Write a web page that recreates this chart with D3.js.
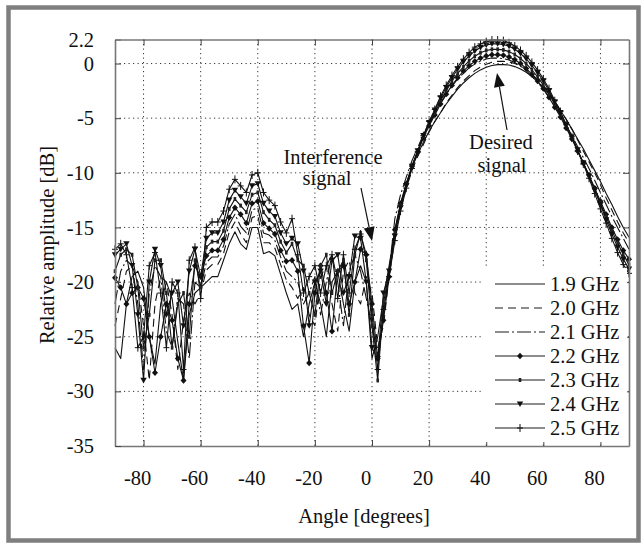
<!DOCTYPE html>
<html><head><meta charset="utf-8">
<script src="https://cdn.jsdelivr.net/npm/d3@7"></script>
<style>
body{margin:0;background:#fff}
svg text{font-family:"Liberation Serif","Times New Roman",Times,serif;fill:#111}
</style>
</head><body>
<svg id="c" width="644" height="548"></svg>
<script>
// ---------- data ----------
const angles = [-90,-88,-86,-84,-82,-80,-78,-76,-74,-72,-70,-68,-66,-64,-62,-60,
 -58,-56,-54,-52,-50,-48,-46,-44,-42,-40,-38,-36,-34,-32,-30,-28,
 -26,-24,-22,-20,-18,-16,-14,-12,-10,-8,-6,-4,-2,0,2,4,6,
 8,10,12,14,16,18,20,22,24,26,28,30,32,34,36,38,40,42,44,46,
 48,50,52,54,56,58,60,62,64,66,68,70,72,74,76,78,80,82,84,86,88,90];

const s19 = [-26,-27,-22,-19.5,-19,-20.5,-25,-27.5,-22,-20,-21.5,-25.5,-29,-23,-21,-20.5,
 -20,-19.5,-19.5,-18,-16.5,-15.4,-16.5,-17,-15,-15,-17.4,-17.2,-17.6,-19.3,-21,-22.5,
 -22,-25,-22,-20,-22,-25,-20,-19,-22,-24.5,-20,-18.5,-20,-27,-25,-21.5,-18.5,
 -15.3,-12.9,-11.0,-9.5,-8.3,-7.2,-6.2,-5.3,-4.5,-3.7,-3.0,-2.34,-1.78,-1.3,-0.9,-0.58,-0.34,-0.18,-0.1,-0.1,
 -0.14,-0.28,-0.5,-0.8,-1.2,-1.68,-2.2,-2.8,-3.5,-4.3,-5.1,-6.0,-6.9,-7.8,-8.8,-9.8,-10.8,-11.9,-12.9,-14.0,-15.0,-15.9];
const s20 = [-24,-21.5,-19,-18.5,-20,-24,-29,-22,-19.5,-20,-23,-28,-23.5,-21,-22,-21,
 -18.9,-18.4,-18.4,-17.4,-15.4,-14.5,-15.6,-16.4,-14.1,-13.9,-16.4,-16.4,-16.9,-18.4,-19.8,-20.5,
 -21.5,-20.5,-23,-24,-19.5,-18.5,-22,-24.5,-19,-18,-21,-22,-19.5,-21,-26,-24,-19.5,
 -16,-13.4,-11.4,-9.8,-8.5,-7.4,-6.26,-5.3,-4.5,-3.6,-2.9,-2.2,-1.6,-1.1,-0.65,-0.31,-0.06,0.12,0.2,0.2,
 0.15,0.01,-0.22,-0.54,-0.96,-1.47,-2.03,-2.7,-3.4,-4.3,-5.1,-6.0,-7.0,-8.0,-9.0,-10.0,-11.1,-12.3,-13.4,-14.5,-15.5,-16.4];
const s21 = [-22,-19,-18,-18.5,-22,-28,-21,-18.5,-19.5,-24.5,-26,-21.5,-22,-27,-20,-20.5,
 -18.2,-17.7,-17.7,-16.7,-14.7,-13.8,-14.9,-15.5,-13.4,-13.2,-15.5,-15.7,-16.2,-17.7,-19,-19.5,
 -20,-22,-21,-19.5,-23,-20,-17.5,-20,-24,-19,-17.5,-19,-21.5,-24,-26.8,-23,-19,
 -14.2,-12.0,-10.4,-8.9,-7.7,-6.5,-5.5,-4.6,-3.6,-2.8,-2.1,-1.4,-0.9,-0.4,-0.05,0.22,0.41,0.5,0.5,0.45,
 0.32,0.09,-0.24,-0.65,-1.16,-1.7,-2.35,-3.1,-3.9,-4.7,-5.7,-6.6,-7.6,-8.6,-9.6,-10.7,-11.8,-12.9,-14.0,-15.0,-16.0,-17.0];
const s22 = [-19.6,-20.5,-22,-21,-20.5,-21.5,-25,-28.3,-25,-22,-23.5,-27,-29,-22,-18.5,-19.5,
 -17.6,-17.1,-17.1,-16.1,-14.1,-13.2,-13.8,-14.6,-12.8,-12.6,-14.6,-15.1,-15.6,-17.1,-18.1,-18,
 -19,-24,-27.4,-21,-18.5,-21,-24.5,-19,-18.5,-22,-20,-17,-17.5,-22,-27,-23.5,-19.5,
 -15.2,-12.8,-11.0,-9.4,-8.1,-6.8,-5.7,-4.7,-3.7,-2.8,-2.0,-1.3,-0.7,-0.2,0.2,0.5,0.7,0.8,0.8,0.75,
 0.6,0.35,0.0,-0.45,-1.0,-1.6,-2.3,-3.1,-4.0,-4.9,-5.9,-6.9,-8.0,-9.1,-10.2,-11.4,-12.6,-13.8,-15.0,-16.1,-17.1,-17.9];
const s23 = [-19,-17.5,-17,-17.5,-20.5,-26,-23,-18,-18,-21,-26,-22,-21,-25,-18,-20.5,
 -16.8,-16.3,-16.3,-15.3,-13.3,-12.4,-13,-13.6,-12,-11.8,-13.6,-14.3,-14.8,-16.3,-17.3,-16.5,
 -18,-18.5,-21,-23,-18.5,-17.5,-21,-19,-18,-23,-17.5,-15.5,-18,-24,-29,-22,-19,
 -15.5,-13.0,-11.1,-9.4,-8.0,-6.7,-5.5,-4.5,-3.4,-2.5,-1.6,-0.9,-0.3,0.25,0.67,0.99,1.2,1.3,1.3,1.25,
 1.09,0.83,0.46,-0.01,-0.59,-1.22,-1.96,-2.8,-3.7,-4.7,-5.7,-6.8,-7.9,-9.1,-10.3,-11.5,-12.8,-14.0,-15.3,-16.4,-17.5,-18.4];
const s24 = [-17.5,-17,-16.5,-18.5,-23,-29,-20,-17,-18.5,-23,-21,-20,-24,-19,-17,-19.5,
 -16,-15.5,-15.5,-14.5,-12.5,-11.6,-12.2,-12.8,-11.2,-11,-12.8,-13.5,-14,-15.5,-16.5,-16,
 -16.5,-19,-24,-20,-19,-22,-18,-17.5,-21,-19.5,-15.8,-16,-20,-26,-27,-21,-19,
 -15.8,-13.2,-11.2,-9.4,-8.0,-6.6,-5.4,-4.25,-3.15,-2.2,-1.3,-0.5,0.15,0.7,1.14,1.47,1.69,1.8,1.8,1.75,
 1.58,1.3,0.92,0.43,-0.18,-0.84,-1.6,-2.5,-3.5,-4.5,-5.6,-6.7,-7.9,-9.1,-10.3,-11.6,-12.9,-14.3,-15.6,-16.8,-17.9,-18.8];
const s25 = [-17,-16.5,-17.5,-20.5,-26,-25,-18.5,-17.3,-21,-26,-20,-21,-28,-18,-16.8,-21.5,
 -15,-14.5,-14.5,-13.5,-11.5,-10.6,-11.2,-11.8,-10.2,-10.0,-11.8,-12.5,-13,-14.5,-15.5,-14.2,
 -17.5,-21,-19.5,-18.5,-21,-18.5,-17.5,-21.5,-17.5,-21,-17,-15.6,-17.5,-23,-28,-22.5,-19.5,
 -16.2,-13.5,-11.4,-9.6,-8.1,-6.6,-5.3,-4.2,-3.0,-2.0,-1.1,-0.3,0.4,1.0,1.5,1.8,2.0,2.15,2.15,2.1,
 1.9,1.6,1.2,0.7,0.1,-0.6,-1.4,-2.3,-3.4,-4.4,-5.6,-6.7,-8.0,-9.2,-10.5,-11.9,-13.3,-14.6,-16.0,-17.3,-18.4,-19.2];

const seriesNames = ["1.9 GHz","2.0 GHz","2.1 GHz","2.2 GHz","2.3 GHz","2.4 GHz","2.5 GHz"];
const seriesValues = [s19,s20,s21,s22,s23,s24,s25];
const xTicks = [-80,-60,-40,-20,0,20,40,60,80];
const yTicks = [2.2,0,-5,-10,-15,-20,-25,-30,-35];
const yGrid = [0,-5,-10,-15,-20,-25,-30];

seriesValues.forEach((s,i)=>{ if(s.length!==angles.length) throw new Error("len "+seriesNames[i]+" "+s.length); });

// ---------- styles ----------
const styles = [
 {dash:null, marker:null},
 {dash:"8,5", marker:null},
 {dash:"14,3,2,3", marker:null},
 {dash:null, marker:"diamond"},
 {dash:null, marker:"square"},
 {dash:null, marker:"tri"},
 {dash:null, marker:"plus"}
];

const svg = d3.select("#c");
const L=115, R=629, T=39.5, B=446;
const x = d3.scaleLinear().domain([-90,90]).range([L,R]);
const y = d3.scaleLinear().domain([-35,2.2]).range([B,T]);

svg.append("rect").attr("x",0).attr("y",0).attr("width",644).attr("height",548).attr("fill","#fff");
svg.append("rect").attr("x",8.5).attr("y",7.5).attr("width",630).attr("height",533)
  .attr("fill","none").attr("stroke","#7f7f7f").attr("stroke-width",4.5);

// grid
const grid = svg.append("g").attr("stroke","#333").attr("stroke-width",1).attr("stroke-dasharray","1.2,3.3");
grid.selectAll("line.v").data(xTicks).join("line").attr("class","v")
  .attr("x1",d=>x(d)).attr("x2",d=>x(d)).attr("y1",T).attr("y2",B);
grid.selectAll("line.h").data(yGrid).join("line").attr("class","h")
  .attr("x1",L).attr("x2",R).attr("y1",d=>y(d)).attr("y2",d=>y(d));

// curves
const line = d3.line().x((d,i)=>x(angles[i])).y(d=>y(d));
const curves = svg.append("g");
seriesValues.forEach((vals,k)=>{
  const st = styles[k];
  curves.append("path").attr("d",line(vals)).attr("fill","none")
    .attr("stroke","#111").attr("stroke-width",1.1)
    .attr("stroke-linejoin","round")
    .attr("stroke-dasharray",st.dash);
});
function drawMarker(g,type,cx,cy){
  if(type==="diamond") g.append("path").attr("d",`M${cx},${cy-3.2}L${cx+3},${cy}L${cx},${cy+3.2}L${cx-3},${cy}Z`).attr("fill","#111");
  else if(type==="square") g.append("rect").attr("x",cx-1.3).attr("y",cy-2).attr("width",2.6).attr("height",4).attr("fill","#222");
  else if(type==="tri") g.append("path").attr("d",`M${cx-3.2},${cy-2.6}L${cx+3.2},${cy-2.6}L${cx},${cy+3}Z`).attr("fill","#111");
  else if(type==="plus"){
    g.append("line").attr("x1",cx).attr("x2",cx).attr("y1",cy-4).attr("y2",cy+4).attr("stroke","#111").attr("stroke-width",1);
    g.append("line").attr("x1",cx-3).attr("x2",cx+3).attr("y1",cy).attr("y2",cy).attr("stroke","#111").attr("stroke-width",1);
  }
}
seriesValues.forEach((vals,k)=>{
  const st = styles[k];
  if(!st.marker) return;
  const g = curves.append("g");
  vals.forEach((v,i)=>drawMarker(g,st.marker,x(angles[i]),y(v)));
});

// axes
const axColor="#777";
const fmt = d=>String(d);
const ax = svg.append("g").attr("transform",`translate(0,${B})`)
  .call(d3.axisBottom(x).tickValues(xTicks).tickSizeInner(-6).tickSizeOuter(0).tickPadding(24).tickFormat(fmt));
const ay = svg.append("g").attr("transform",`translate(${L},0)`)
  .call(d3.axisLeft(y).tickValues(yTicks).tickSizeInner(-6).tickSizeOuter(0).tickPadding(21).tickFormat(fmt));
const at = svg.append("g").attr("transform",`translate(0,${T})`)
  .call(d3.axisTop(x).tickValues(xTicks).tickSizeInner(-6).tickSizeOuter(0).tickFormat(""));
const ar = svg.append("g").attr("transform",`translate(${R},0)`)
  .call(d3.axisRight(y).tickValues(yGrid).tickSizeInner(-6).tickSizeOuter(0).tickFormat(""));
[ax,ay,at,ar].forEach(g=>{
  g.select(".domain").attr("stroke",axColor).attr("stroke-width",1.6);
  g.selectAll(".tick line").attr("stroke","#444").attr("stroke-width",1);
  g.selectAll("text").attr("font-family",'"Liberation Serif","Times New Roman",serif').attr("font-size",20.5).attr("fill","#111");
});
ax.selectAll(".tick text").attr("dx",-6.5);

// axis titles
svg.append("text").attr("x",364).attr("y",523).attr("text-anchor","middle").attr("font-size",20.5).text("Angle [degrees]");
svg.append("text").attr("transform","translate(54,245) rotate(-90)").attr("text-anchor","middle").attr("font-size",20.5).text("Relative amplitude [dB]");

// legend
const lg = svg.append("g");
lg.append("rect").attr("x",484).attr("y",268).attr("width",143).attr("height",174).attr("fill","#fff");
seriesNames.forEach((name,k)=>{
  const cy = 284 + k*24;
  const st = styles[k];
  lg.append("line").attr("x1",495).attr("x2",545).attr("y1",cy).attr("y2",cy)
    .attr("stroke","#1a1a1a").attr("stroke-width",1).attr("stroke-dasharray",st.dash);
  if(st.marker) drawMarker(lg,st.marker,520,cy);
  lg.append("text").attr("x",550).attr("y",cy+7).attr("font-size",20.5).text(name);
});

// annotations
function arrow(x1,y1,x2,y2){
  const dx=x2-x1, dy=y2-y1, len=Math.hypot(dx,dy), ux=dx/len, uy=dy/len;
  const hl=14, hw=5.5;
  const bx=x2-ux*hl, by=y2-uy*hl;
  svg.append("line").attr("x1",x1).attr("y1",y1).attr("x2",bx).attr("y2",by).attr("stroke","#111").attr("stroke-width",1.2);
  svg.append("path").attr("d",`M${x2},${y2}L${bx-uy*hw},${by+ux*hw}L${bx+uy*hw},${by-ux*hw}Z`).attr("fill","#111");
}
svg.append("text").attr("x",333).attr("y",164).attr("text-anchor","middle").attr("font-size",20.5).text("Interference");
svg.append("text").attr("x",327).attr("y",185).attr("text-anchor","middle").attr("font-size",20.5).text("signal");
arrow(361,188,372,241);
svg.append("text").attr("x",501).attr("y",149).attr("text-anchor","middle").attr("font-size",20.5).text("Desired");
svg.append("text").attr("x",502).attr("y",172).attr("text-anchor","middle").attr("font-size",20.5).text("signal");
arrow(507,130,497,73);
</script>
</body></html>
